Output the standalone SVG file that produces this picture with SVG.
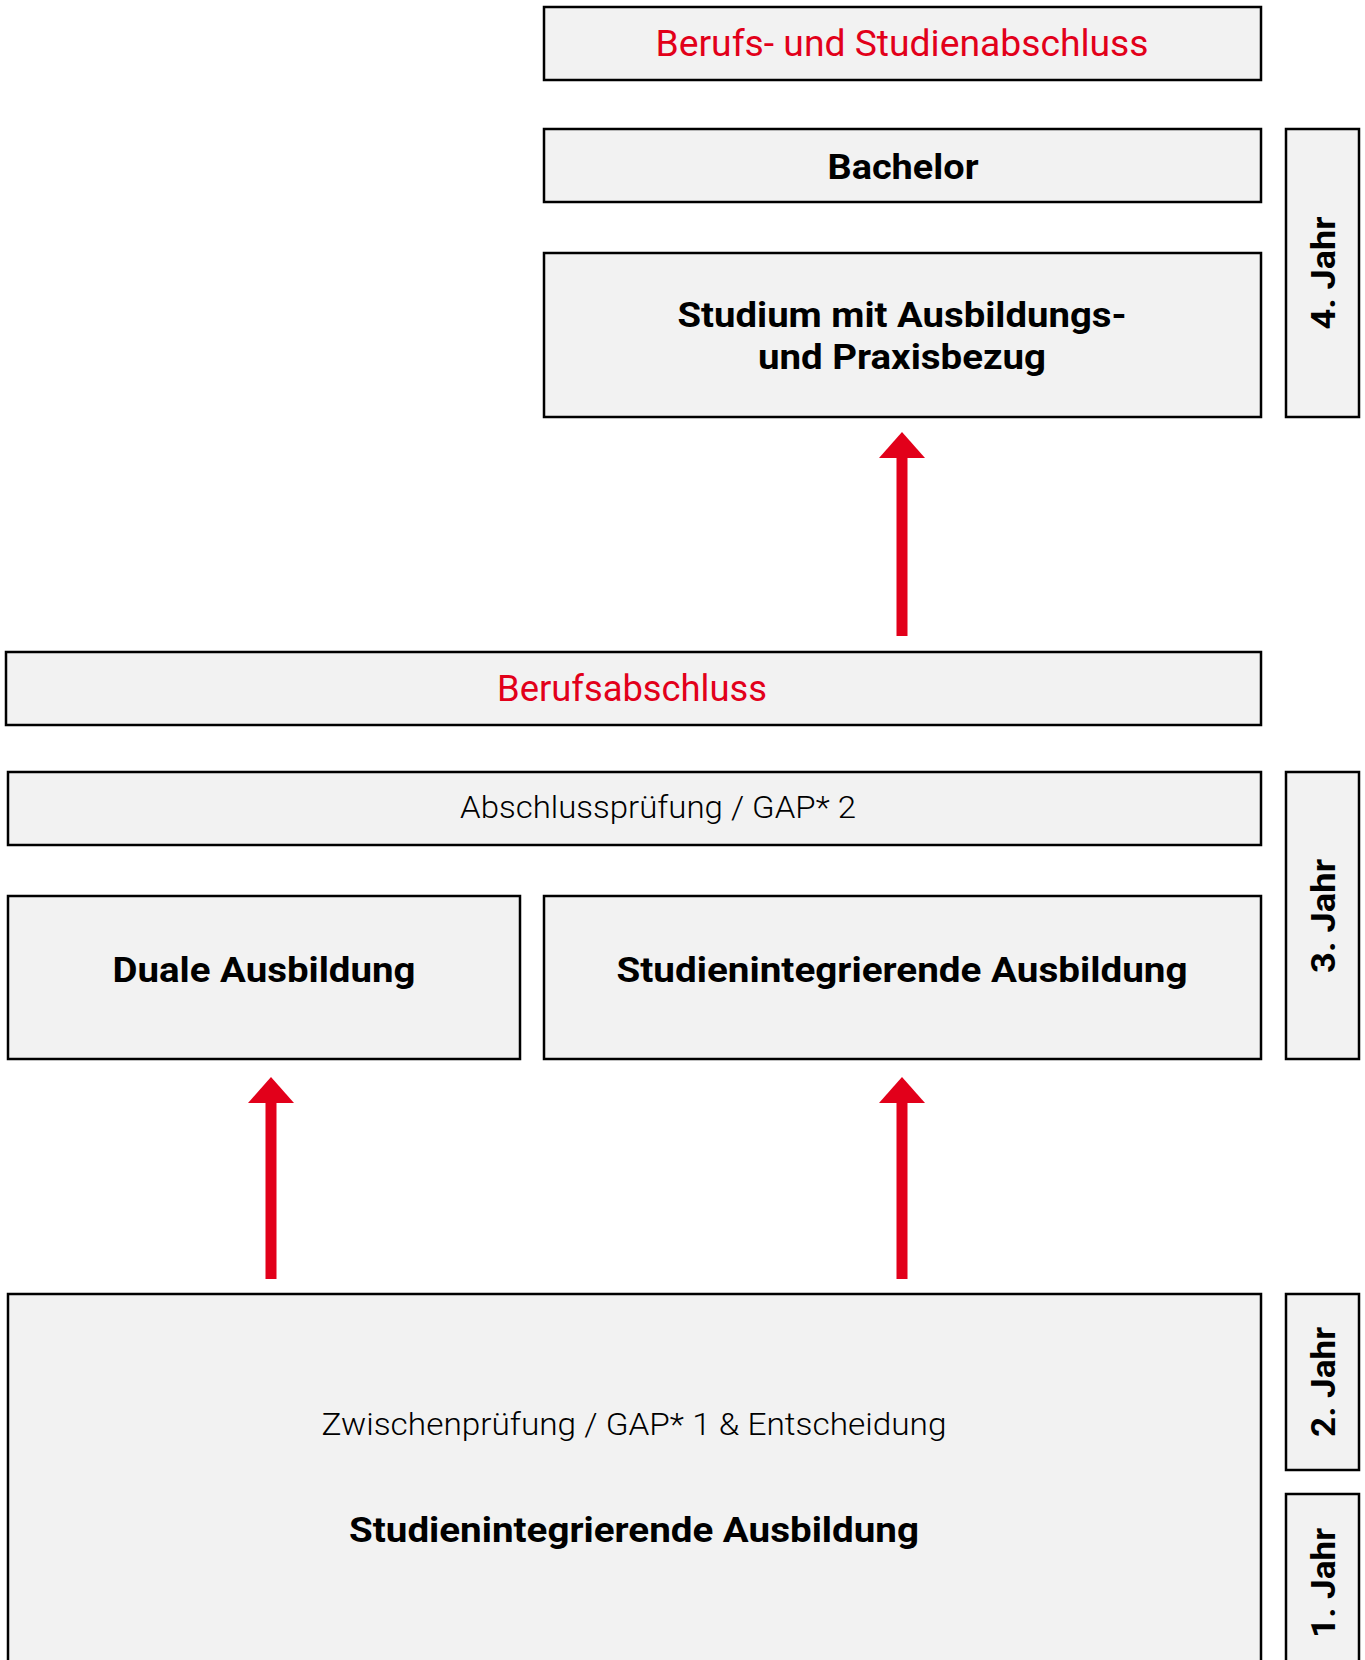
<svg xmlns="http://www.w3.org/2000/svg" width="1365" height="1660" viewBox="0 0 1365 1660">
<style>
.box{fill:#f2f2f2;stroke:#000;stroke-width:2.5}
.t{font-family:Roboto,"Liberation Sans",sans-serif;text-anchor:middle;fill:#000}
.red{fill:#e2001a;font-size:36px;font-weight:400}
.b{font-size:35px;font-weight:700}
.l{font-size:31px;font-weight:300}
.yr{font-size:33px;font-weight:700}
.arr{stroke:#e2001a;stroke-width:11;fill:none}
.head{fill:#e2001a}
</style>
<rect width="1365" height="1660" fill="#fff"/>
<g id="node-abschluss-top"><rect class="box" x="544" y="7" width="717" height="73"/><text class="t red" x="902" y="56" textLength="493" lengthAdjust="spacingAndGlyphs">Berufs- und Studienabschluss</text></g>
<g id="node-bachelor"><rect class="box" x="544" y="129" width="717" height="73"/><text class="t b" x="903" y="179" textLength="151" lengthAdjust="spacingAndGlyphs">Bachelor</text></g>
<g id="node-studium"><rect class="box" x="544" y="253" width="717" height="164"/><text class="t b" x="902" y="327" textLength="449" lengthAdjust="spacingAndGlyphs">Studium mit Ausbildungs-</text><text class="t b" x="902" y="369" textLength="288" lengthAdjust="spacingAndGlyphs">und Praxisbezug</text></g>
<g id="node-jahr4"><rect class="box" x="1286" y="129" width="73" height="288"/><text class="t yr" transform="translate(1335,273) rotate(-90)" textLength="113" lengthAdjust="spacingAndGlyphs">4. Jahr</text></g>
<g id="node-berufsabschluss"><rect class="box" x="6" y="652" width="1255" height="73"/><text class="t red" x="632" y="701" textLength="270" lengthAdjust="spacingAndGlyphs">Berufsabschluss</text></g>
<g id="node-abschlusspruefung"><rect class="box" x="8" y="772" width="1253" height="73"/><text class="t l" x="658" y="818" textLength="396" lengthAdjust="spacingAndGlyphs">Abschlussprüfung / GAP* 2</text></g>
<g id="node-jahr3"><rect class="box" x="1286" y="772" width="73" height="287"/><text class="t yr" transform="translate(1335,916) rotate(-90)" textLength="114" lengthAdjust="spacingAndGlyphs">3. Jahr</text></g>
<g id="node-duale"><rect class="box" x="8" y="896" width="512" height="163"/><text class="t b" x="264" y="982" textLength="303" lengthAdjust="spacingAndGlyphs">Duale Ausbildung</text></g>
<g id="node-studienint"><rect class="box" x="544" y="896" width="717" height="163"/><text class="t b" x="902" y="982" textLength="571" lengthAdjust="spacingAndGlyphs">Studienintegrierende Ausbildung</text></g>
<g id="node-bottom"><rect class="box" x="8" y="1294" width="1253" height="380"/><text class="t l" x="634" y="1435" textLength="625" lengthAdjust="spacingAndGlyphs">Zwischenprüfung / GAP* 1 &amp; Entscheidung</text><text class="t b" x="634" y="1542" textLength="570" lengthAdjust="spacingAndGlyphs">Studienintegrierende Ausbildung</text></g>
<g id="node-jahr2"><rect class="box" x="1286" y="1294" width="73" height="176"/><text class="t yr" transform="translate(1335,1382) rotate(-90)" textLength="110" lengthAdjust="spacingAndGlyphs">2. Jahr</text></g>
<g id="node-jahr1"><rect class="box" x="1286" y="1494" width="73" height="190"/><text class="t yr" transform="translate(1335,1583) rotate(-90)" textLength="110" lengthAdjust="spacingAndGlyphs">1. Jahr</text></g>
<g id="connectors">
<line class="arr" x1="902" y1="636" x2="902" y2="456"/><path class="head" d="M879,458 L902,432 L925,458 Z"/>
<line class="arr" x1="271" y1="1279" x2="271" y2="1101"/><path class="head" d="M248,1103 L271,1077 L294,1103 Z"/>
<line class="arr" x1="902" y1="1279" x2="902" y2="1101"/><path class="head" d="M879,1103 L902,1077 L925,1103 Z"/>
</g>
</svg>
